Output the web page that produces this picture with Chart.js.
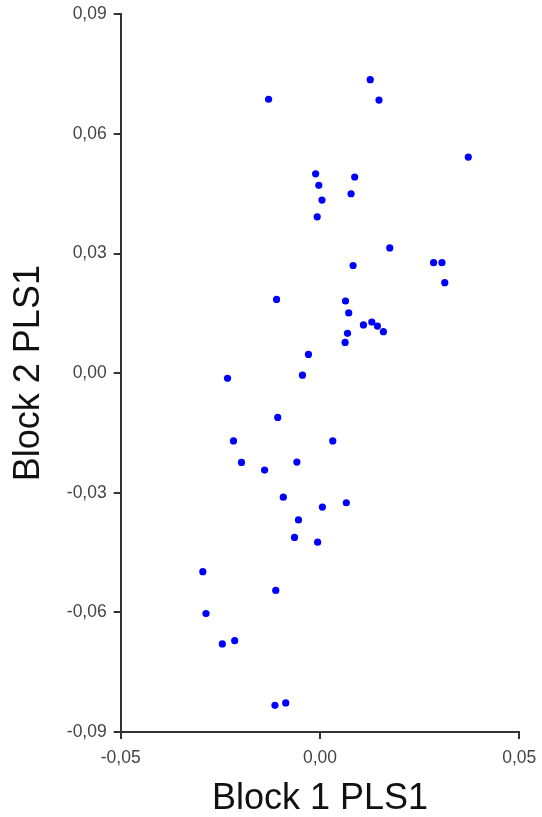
<!DOCTYPE html>
<html>
<head>
<meta charset="utf-8">
<script src="https://cdn.jsdelivr.net/npm/chart.js@4"></script>
<style>
    body { margin: 0; background: #fff; }
    #wrap { width: 542px; height: 817px; }
</style>
</head>
<body>
<div id="wrap"><canvas id="plsChart" width="542" height="817"></canvas></div>
<script>
const block1 = [
    -0.0129, 0.0126, 0.0148, 0.0372, -0.0011, -0.0003, 0.0005, -0.0007, 0.0087, 0.0078,
    0.0175, 0.0285, 0.0306, 0.0083, 0.0313, -0.0109, 0.0064, 0.0072, 0.0109, 0.0130,
    0.0144, 0.0159, 0.0069, 0.0063, -0.0029, -0.0044, -0.0232, -0.0106, -0.0217, 0.0032,
    -0.0197, -0.0058, -0.0139, -0.0092, 0.0006, 0.0066, -0.0054, -0.0064, -0.0006, -0.0294,
    -0.0111, -0.0286, -0.0245, -0.0214, -0.0113, -0.0086
];
const block2 = [
    0.0687, 0.0736, 0.0685, 0.0542, 0.0500, 0.0471, 0.0434, 0.0392, 0.0492, 0.0450,
    0.0314, 0.0277, 0.0277, 0.0270, 0.0227, 0.0185, 0.0181, 0.0151, 0.0121, 0.0128,
    0.0118, 0.0104, 0.0100, 0.0077, 0.0047, -0.0005, -0.0013, -0.0111, -0.0170, -0.0170,
    -0.0224, -0.0223, -0.0243, -0.0311, -0.0336, -0.0325, -0.0368, -0.0412, -0.0424, -0.0498,
    -0.0545, -0.0603, -0.0679, -0.0671, -0.0833, -0.0827
];
const xTicks = [-0.05, 0, 0.05];
const yTicks = [-0.09, -0.06, -0.03, 0, 0.03, 0.06, 0.09];

const fmt = v => v.toFixed(2).replace(".", ",");
const tickFont = { family: "'Liberation Sans', Arial, sans-serif", size: 17.5 };
const titleFont = { family: "'Liberation Sans', Arial, sans-serif", size: 36, lineHeight: 1 };

new Chart(document.getElementById("plsChart"), {
    type: "scatter",
    data: {
        datasets: [{
            data: block1.map((x, i) => ({ x: x, y: block2[i] })),
            backgroundColor: "#0000ff",
            borderWidth: 0,
            pointRadius: 3.6
        }]
    },
    options: {
        responsive: false,
        animation: false,
        layout: { padding: { left: 0, right: 22.7, top: 14.3, bottom: 0 } },
        plugins: { legend: { display: false }, tooltip: { enabled: false } },
        scales: {
            x: {
                min: xTicks[0],
                max: xTicks[xTicks.length - 1],
                afterBuildTicks: s => { s.ticks = xTicks.map(v => ({ value: v })); },
                afterFit: s => { s.height = 85; s.paddingLeft = 0; s.paddingRight = 0; },
                grid: { drawOnChartArea: false, drawTicks: true, tickLength: 7, color: "#333", lineWidth: 2 },
                border: { display: true, color: "#333", width: 2 },
                ticks: { callback: v => fmt(v), color: "#444", font: tickFont, padding: 9, maxRotation: 0 },
                title: { display: true, text: "Block 1 PLS1", color: "#111", font: titleFont, padding: { top: 0, bottom: 0 } }
            },
            y: {
                min: yTicks[0],
                max: yTicks[yTicks.length - 1],
                afterBuildTicks: s => { s.ticks = yTicks.map(v => ({ value: v })); },
                afterFit: s => { s.width = 120.7; s.paddingTop = 0; s.paddingBottom = 0; },
                grid: { drawOnChartArea: false, drawTicks: true, tickLength: 7, color: "#333", lineWidth: 2 },
                border: { display: true, color: "#333", width: 2 },
                ticks: { callback: v => fmt(v), color: "#444", font: tickFont, padding: 7 },
                title: { display: true, text: "Block 2 PLS1", color: "#111", font: titleFont, padding: { top: 11, bottom: 0 } }
            }
        }
    }
});
</script>
</body>
</html>
